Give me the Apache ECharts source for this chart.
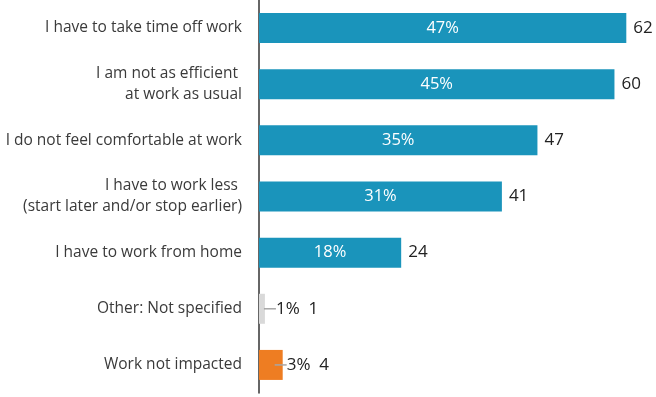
<!DOCTYPE html>
<html>
<head>
<meta charset="utf-8">
<script src="https://cdn.jsdelivr.net/npm/echarts@6/dist/echarts.min.js"></script>
<style>
  html, body { margin: 0; padding: 0; background: #fff; }
  #chart { width: 656px; height: 397px; }
</style>
</head>
<body>
<div id="chart"></div>
<script>
// data
var categories = [
  'I have to take time off work',
  'I am not as efficient \nat work as usual',
  'I do not feel comfortable at work',
  'I have to work less \n(start later and/or stop earlier)',
  'I have to work from home',
  'Other: Not specified',
  'Work not impacted'
]
var counts = [62, 60, 47, 41, 24, 1, 4]
var percents = ['47%', '45%', '35%', '31%', '18%', '1%', '3%']
var barColors = ['#1a94bb', '#1a94bb', '#1a94bb', '#1a94bb', '#1a94bb', '#d9d9d9', '#ee7d22']

var FONT = '"Open Sans", "Noto Sans", sans-serif'
var myChart = echarts.init(document.getElementById('chart'))

var data = counts.map(function (v, i) {
  var small = v < 10
  return {
    value: v,
    itemStyle: { color: barColors[i] },
    label: {
      distance: small ? (v < 2 ? -1 : -8) : 7,
      formatter: small ? '{ln|}{p|' + percents[i] + '}  ' + v : '' + v
    }
  }
})

var option = {
  animation: false,
  grid: {
    left: 259,
    top: 0,
    width: 391,
    height: 393,
    containLabel: false
  },
  xAxis: {
    type: 'value',
    min: 0,
    max: 66,
    show: false
  },
  yAxis: {
    type: 'category',
    inverse: true,
    data: categories,
    axisLine: { show: true, lineStyle: { color: '#333', width: 1.5 } },
    axisTick: { show: false },
    axisLabel: {
      margin: 17,
      color: '#3a3a3a',
      fontSize: 15.5,
      lineHeight: 21,
      fontFamily: FONT,
      align: 'right'
    }
  },
  series: [
    {
      type: 'bar',
      barWidth: 30,
      data: data,
      label: {
        show: true,
        position: 'right',
        color: '#222',
        fontSize: 17,
        fontFamily: FONT,
        rich: {
          ln: { width: 12, height: 1.5, backgroundColor: '#a6a6a6' },
          p: { color: '#222', fontSize: 17, fontFamily: FONT }
        }
      }
    },
    {
      // percent labels centred inside the larger bars
      type: 'bar',
      barWidth: 30,
      barGap: '-100%',
      silent: true,
      itemStyle: { color: 'transparent' },
      data: counts.map(function (v, i) {
        return {
          value: v,
          label: { show: v >= 10, formatter: percents[i] }
        }
      }),
      label: {
        position: 'inside',
        color: '#fff',
        fontSize: 16.5,
        fontFamily: FONT
      }
    }
  ]
}
myChart.setOption(option)
</script>
</body>
</html>
